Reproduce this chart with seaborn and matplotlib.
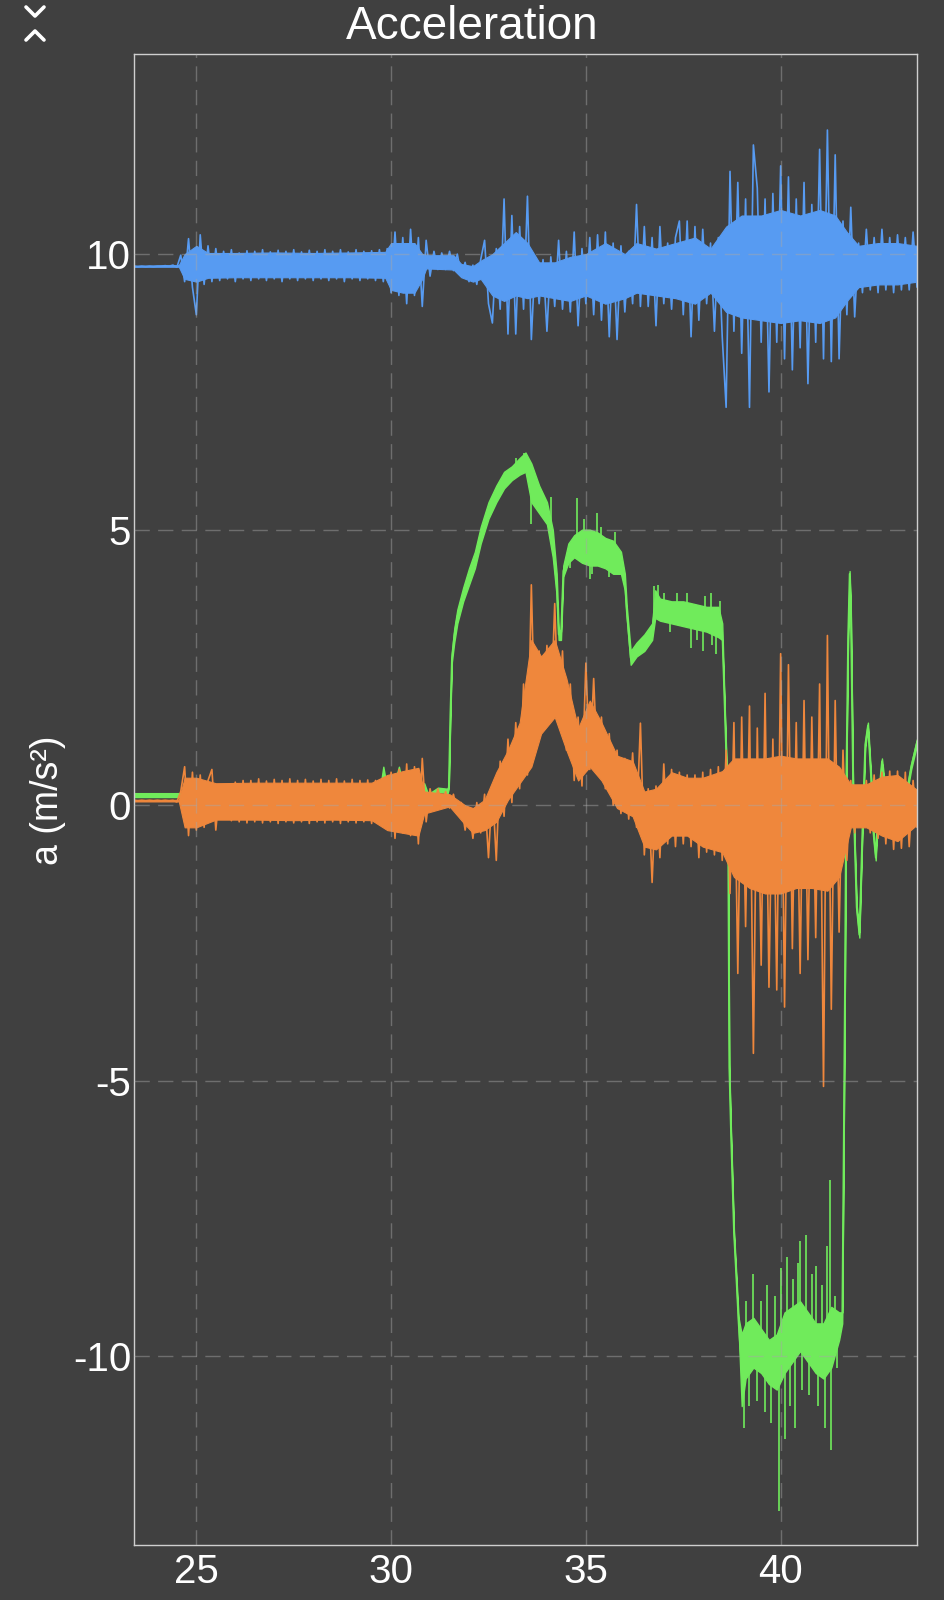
import numpy as np
import pandas as pd
import matplotlib
matplotlib.use("Agg")
import matplotlib.pyplot as plt
from matplotlib.lines import Line2D
import seaborn as sns

# readings every 0.1 s from 23.4 s, in m/s^2 (peaks of the noise)
SAMPLE_START = 23.4
SAMPLE_STEP = 0.1

blue_a = [9.78, 9.77, 9.78, 9.77, 9.78, 9.77, 9.78, 9.78, 9.79, 9.78,
          9.80, 9.76, 9.98, 9.50, 10.28, 9.40, 8.90, 10.35, 9.45, 10.15,
          9.50, 10.10, 9.52, 10.05, 9.55, 10.08, 9.50, 10.02, 9.55, 10.06,
          9.52, 10.05, 9.55, 10.08, 9.52, 10.04, 9.55, 10.07, 9.50, 10.05,
          9.55, 10.08, 9.52, 10.04, 9.55, 10.07, 9.52, 10.05, 9.55, 10.08,
          9.52, 10.05, 9.55, 10.08, 9.50, 10.04, 9.55, 10.08, 9.52, 10.05,
          9.55, 10.06, 9.52, 10.08, 9.50, 10.10, 9.30, 10.40, 9.25, 10.30,
          9.10, 10.45, 9.25, 10.30, 9.05, 10.25, 9.60, 10.05, 9.72, 10.02,
          9.72, 10.05, 9.70, 10.00, 9.60, 9.85, 9.50, 9.80, 9.45, 9.90,
          10.25, 9.10, 8.75, 10.10, 9.00, 11.00, 8.55, 10.70, 8.55, 10.50,
          9.00, 11.05, 8.45, 9.95, 9.10, 9.90, 8.60, 9.95, 9.05, 10.25,
          9.00, 10.05, 8.95, 10.40, 8.70, 10.10, 9.10, 10.30, 8.90, 10.35,
          8.80, 10.40, 8.50, 10.20, 8.45, 10.15, 8.95, 10.05, 9.10, 10.90,
          9.05, 10.50, 9.05, 10.30, 8.70, 10.50, 9.10, 10.20, 9.00, 10.30,
          10.60, 8.90, 10.60, 8.50, 10.50, 8.80, 10.45, 9.10, 10.20, 8.60,
          10.30, 8.50, 7.22, 11.50, 8.60, 11.30, 8.20, 11.00, 7.22, 11.98,
          11.20, 8.40, 11.00, 7.50, 11.10, 8.40, 11.60, 8.10, 11.40, 7.90,
          11.00, 8.30, 11.30, 7.65, 10.90, 8.40, 11.90, 8.10, 12.25, 8.05,
          11.80, 8.10, 10.60, 8.90, 10.85, 8.86, 10.20, 9.30, 10.45, 9.35,
          10.30, 9.30, 10.45, 9.35, 10.30, 9.30, 10.35, 9.35, 10.30, 9.35,
          10.40, 9.40]

orange_a = [0.09, 0.08, 0.09, 0.08, 0.09, 0.08, 0.09, 0.08, 0.09, 0.08,
            0.09, 0.06, 0.25, 0.70, -0.55, 0.60, -0.45, 0.55, -0.40, 0.45,
            0.65, -0.45, 0.30, -0.25, 0.35, -0.28, 0.42, -0.30, 0.45, -0.32,
            0.45, -0.30, 0.48, -0.32, 0.44, -0.30, 0.47, -0.33, 0.45, -0.30,
            0.48, -0.32, 0.45, -0.30, 0.47, -0.33, 0.44, -0.30, 0.47, -0.32,
            0.45, -0.30, 0.48, -0.33, 0.44, -0.30, 0.47, -0.32, 0.45, -0.30,
            0.46, -0.33, 0.45, -0.30, 0.48, -0.35, 0.60, -0.60, 0.65, -0.50,
            0.75, -0.55, 0.70, -0.70, 0.85, -0.30, 0.30, -0.05, 0.30, 0.00,
            0.25, -0.05, 0.20, -0.15, 0.05, -0.45, -0.05, -0.60, 0.05, -0.50,
            0.20, -0.95, 0.35, -1.00, 0.80, -0.20, 1.20, 0.05, 1.50, 0.30,
            2.20, 0.55, 4.00, 1.10, 2.80, 1.40, 2.90, 1.60, 3.66, 1.60,
            2.80, 1.00, 2.20, 0.45, 1.60, 0.35, 2.58, 0.65, 2.30, 0.60,
            1.60, 0.30, 1.30, 0.00, 1.00, -0.15, 0.85, -0.25, 0.95, -0.40,
            1.49, -0.90, 0.30, -1.40, 0.35, -0.95, 0.75, -0.70, 0.65, -0.75,
            0.60, -0.70, 0.55, -0.75, 0.55, -0.95, 0.60, -0.85, 0.65, -0.90,
            0.70, -1.00, 1.00, -1.60, 1.50, -3.05, 1.60, -2.20, 1.80, -4.50,
            1.40, -2.90, 2.03, -3.30, 1.20, -3.35, 2.75, -3.66, 2.55, -2.60,
            1.50, -3.05, 1.90, -2.80, 1.60, -2.40, 2.20, -5.10, 3.08, -3.70,
            1.90, -2.30, 1.00, -1.00, 0.45, -0.50, 0.35, -0.40, 0.45, -0.50,
            0.55, -0.60, 0.60, -0.70, 0.62, -0.80, 0.62, -0.78, 0.60, -0.75,
            0.45, -0.40]

# dense core of the blue and orange noise: time knots (s), lower and upper edge
blue_t = [23.40, 24.55, 24.70, 25.00, 25.30, 26.00, 27.00, 28.00, 29.00, 29.85, 30.00, 30.30,
          30.60, 30.80, 30.90, 31.60, 31.80, 32.10, 32.30, 32.60, 32.90, 33.20, 33.50, 33.80,
          34.20, 34.60, 35.00, 35.50, 36.00, 36.30, 36.80, 37.30, 37.80, 38.20, 38.60, 39.00,
          39.50, 40.00, 40.50, 41.00, 41.40, 41.70, 42.00, 42.50, 43.00, 43.50]
blue_lo = [9.77, 9.77, 9.55, 9.50, 9.57, 9.58, 9.58, 9.58, 9.58, 9.57, 9.35, 9.30,
           9.30, 9.55, 9.74, 9.72, 9.58, 9.50, 9.55, 9.25, 9.15, 9.25, 9.20, 9.25,
           9.20, 9.15, 9.25, 9.10, 9.20, 9.30, 9.25, 9.20, 9.10, 9.30, 8.95, 8.85,
           8.80, 8.75, 8.80, 8.75, 8.85, 9.15, 9.40, 9.45, 9.45, 9.50]
blue_hi = [9.79, 9.80, 10.00, 10.15, 10.02, 10.02, 10.03, 10.02, 10.03, 10.04, 10.20, 10.20,
           10.20, 10.00, 9.98, 9.98, 9.82, 9.78, 9.88, 10.00, 10.20, 10.40, 10.20, 9.85,
           9.85, 9.95, 10.00, 10.20, 10.00, 10.20, 10.10, 10.20, 10.30, 10.10, 10.50, 10.70,
           10.70, 10.80, 10.70, 10.80, 10.70, 10.40, 10.15, 10.20, 10.20, 10.15]

orange_t = [23.40, 24.55, 24.70, 25.00, 25.50, 26.50, 27.50, 28.50, 29.50, 29.90, 30.30, 30.70,
            30.85, 31.50, 31.90, 32.10, 32.40, 32.70, 33.00, 33.30, 33.60, 33.85, 34.20, 34.50,
            34.80, 35.10, 35.40, 35.80, 36.20, 36.50, 36.80, 37.20, 37.60, 38.00, 38.50, 38.80,
            39.20, 39.60, 40.00, 40.40, 40.80, 41.20, 41.50, 41.80, 42.20, 42.60, 43.00, 43.50]
orange_lo = [0.07, 0.07, -0.40, -0.40, -0.26, -0.26, -0.27, -0.26, -0.27, -0.45, -0.50, -0.55,
             -0.15, -0.02, -0.35, -0.50, -0.45, -0.30, 0.10, 0.40, 0.70, 1.30, 1.60, 1.00,
             0.45, 0.70, 0.45, -0.05, -0.20, -0.75, -0.80, -0.55, -0.55, -0.75, -0.85, -1.30,
             -1.50, -1.60, -1.60, -1.50, -1.50, -1.55, -1.30, -0.40, -0.40, -0.55, -0.65, -0.35]
orange_hi = [0.10, 0.10, 0.50, 0.50, 0.40, 0.41, 0.41, 0.41, 0.41, 0.55, 0.62, 0.68,
             0.25, 0.20, 0.00, -0.05, 0.10, 0.60, 1.00, 1.50, 3.00, 2.70, 3.00, 2.30,
             1.40, 1.90, 1.50, 0.90, 0.80, 0.25, 0.30, 0.60, 0.50, 0.50, 0.62, 0.85,
             0.85, 0.85, 0.90, 0.85, 0.85, 0.85, 0.70, 0.38, 0.38, 0.52, 0.55, 0.28]

# green trace: time knots (s) with lower and upper edge, plus single spikes
green_t = [23.40, 24.60, 29.70, 29.80, 29.90, 30.00, 30.20, 30.35, 30.60, 30.85, 30.95, 31.20,
           31.45, 31.48, 31.52, 31.56, 31.62, 31.70, 31.85, 32.00, 32.15, 32.30, 32.50, 32.70,
           32.90, 33.10, 33.30, 33.45, 33.60, 33.80, 34.00, 34.15, 34.25, 34.30, 34.36, 34.42,
           34.55, 34.70, 34.90, 35.10, 35.30, 35.50, 35.70, 35.90, 36.00, 36.05, 36.15, 36.30,
           36.50, 36.70, 36.78, 36.90, 37.20, 37.50, 37.80, 38.10, 38.40, 38.50, 38.55, 38.60,
           38.65, 38.68, 38.72, 38.80, 38.86, 38.92, 39.00, 39.10, 39.30, 39.50, 39.70, 39.90,
           40.10, 40.30, 40.50, 40.70, 40.90, 41.10, 41.30, 41.50, 41.58, 41.62, 41.65, 41.68,
           41.73, 41.77, 41.80, 41.86, 41.95, 42.02, 42.10, 42.17, 42.24, 42.32, 42.38, 42.44,
           42.51, 42.60, 42.68, 42.80, 43.00, 43.25, 43.35, 43.50]
green_lo = [0.15, 0.15, 0.15, 0.10, -0.40, -0.30, 0.20, -0.10, 0.05, 0.25, 0.10, 0.25,
            0.22, 0.30, 1.60, 2.60, 2.95, 3.30, 3.70, 4.00, 4.30, 4.75, 5.20, 5.50,
            5.75, 5.90, 6.00, 6.05, 5.50, 5.30, 5.10, 4.50, 3.80, 3.00, 3.00, 4.15,
            4.40, 4.50, 4.40, 4.35, 4.35, 4.30, 4.20, 4.20, 3.90, 3.40, 2.55, 2.70,
            2.80, 3.00, 3.40, 3.35, 3.30, 3.25, 3.20, 3.15, 3.05, 3.00, 2.00, 0.90,
            -0.50, -4.80, -5.90, -7.80, -8.60, -9.50, -10.90, -10.40, -10.20, -10.30, -10.50, -10.60,
            -10.30, -10.10, -9.90, -10.10, -10.30, -10.40, -10.20, -9.70, -9.40, -6.00, -3.20, 0.20,
            3.00, 4.15, 3.50, 0.20, -1.90, -2.40, -0.45, 1.05, 1.40, 0.45, -0.55, -1.00,
            0.05, 0.75, 0.25, 0.10, 0.15, 0.25, 0.65, 1.10]
green_hi = [0.22, 0.22, 0.22, 0.70, 0.30, 0.20, 0.70, 0.20, 0.20, 0.40, 0.20, 0.32,
            0.30, 0.35, 1.70, 2.75, 3.20, 3.55, 3.95, 4.30, 4.60, 5.05, 5.50, 5.80,
            6.05, 6.15, 6.30, 6.40, 6.20, 5.80, 5.50, 5.00, 4.20, 3.20, 3.15, 4.35,
            4.75, 4.90, 5.00, 5.00, 4.95, 4.85, 4.80, 4.60, 4.20, 3.60, 2.80, 2.95,
            3.10, 3.30, 3.90, 3.75, 3.70, 3.70, 3.65, 3.60, 3.60, 3.30, 2.10, 1.00,
            -0.40, -4.70, -5.80, -7.70, -8.50, -9.30, -9.60, -9.40, -9.30, -9.50, -9.70, -9.60,
            -9.20, -9.10, -9.00, -9.20, -9.40, -9.40, -9.10, -9.20, -9.20, -5.90, -3.10, 0.30,
            3.10, 4.25, 3.60, 0.30, -1.80, -2.30, -0.35, 1.15, 1.50, 0.55, -0.45, -0.90,
            0.15, 0.85, 0.35, 0.20, 0.25, 0.35, 0.75, 1.20]
green_spike_t = [33.20, 33.42, 33.60, 34.10, 34.60, 34.77, 34.95, 35.10, 35.15, 35.28, 35.40,
                 35.60, 35.75, 36.75, 36.85, 37.00, 37.15, 37.35, 37.60, 37.70, 37.85, 38.00,
                 38.05, 38.20, 38.25, 38.35, 38.45,
                 39.05, 39.10, 39.20, 39.30, 39.40, 39.50, 39.60, 39.65, 39.75, 39.85, 39.95,
                 40.00, 40.10, 40.17, 40.25, 40.32, 40.37, 40.45, 40.50, 40.55, 40.65, 40.72,
                 40.80, 40.90, 40.95, 41.05, 41.15, 41.20, 41.27, 41.30, 41.40, 41.45]
green_spike_v = [6.30, 6.39, 5.10, 5.60, 4.30, 5.57, 5.20, 4.10, 4.20, 5.30, 5.05,
                 4.15, 4.95, 3.98, 4.00, 3.85, 3.15, 3.85, 3.85, 2.85, 3.00, 2.80,
                 3.80, 3.85, 2.90, 2.75, 3.70,
                 -11.30, -9.00, -10.90, -8.50, -10.80, -9.00, -11.00, -8.70, -11.20, -8.90, -12.80,
                 -8.40, -11.50, -8.20, -10.90, -8.60, -11.30, -8.30, -7.90, -10.60, -7.80, -10.70,
                 -8.50, -8.35, -10.90, -8.70, -11.30, -8.00, -6.80, -11.70, -8.90, -10.20]

BG = "#404040"
BLUE = "#579BF2"
GREEN = "#70EB5B"
ORANGE = "#EF873C"

sns.set_theme(style="dark", rc={"axes.facecolor": BG, "figure.facecolor": BG})
plt.rcParams["font.family"] = ["Liberation Sans", "DejaVu Sans"]
plt.rcParams["axes.unicode_minus"] = False

fig = plt.figure(figsize=(9.45, 16), dpi=100, facecolor=BG)
ax = fig.add_axes([134 / 945, 55 / 1600, 783 / 945, 1491 / 1600])
ax.set_facecolor(BG)


def sample_time(values):
    return np.round(SAMPLE_START + SAMPLE_STEP * np.arange(len(values)), 2)


def draw_noisy(t, lo, hi, values, color, z):
    ax.fill_between(t, lo, hi, color=color, lw=0.8, zorder=z)
    df = pd.DataFrame({"t": sample_time(values), "a": values})
    sns.lineplot(data=df, x="t", y="a", sort=False, estimator=None,
                 color=color, lw=1.2, ax=ax, zorder=z)


def draw_green(t, lo, hi, spike_t, spike_v, color, z):
    t, lo, hi = np.asarray(t), np.asarray(lo), np.asarray(hi)
    ax.fill_between(t, lo, hi, color=color, lw=1.0, zorder=z)
    mid = pd.DataFrame({"t": t, "a": (lo + hi) / 2})
    sns.lineplot(data=mid, x="t", y="a", sort=False, estimator=None,
                 color=color, lw=1.2, ax=ax, zorder=z)
    base = np.interp(spike_t, t, (lo + hi) / 2)
    ax.vlines(spike_t, base, spike_v, color=color, lw=1.2, zorder=z)


draw_noisy(blue_t, blue_lo, blue_hi, blue_a, BLUE, 1.1)
draw_green(green_t, green_lo, green_hi, green_spike_t, green_spike_v, GREEN, 1.2)
draw_noisy(orange_t, orange_lo, orange_hi, orange_a, ORANGE, 1.3)

ax.set_xlim(23.4, 43.5)
ax.set_ylim(-13.42, 13.63)
ax.set_xticks([25, 30, 35, 40])
ax.set_yticks([-10, -5, 0, 5, 10])
ax.set_xlabel("")
ax.set_ylabel("")
ax.tick_params(axis="both", length=0, labelsize=29, colors="white")
ax.tick_params(axis="x", pad=6)
ax.tick_params(axis="y", pad=2)
ax.set_axisbelow(False)
ax.grid(True, color="#a8a8a8", alpha=0.45, lw=1.0, ls=(0, (11, 6)))
for sp in ax.spines.values():
    sp.set_visible(True)
    sp.set_color("#cfcfcf")
    sp.set_linewidth(1.0)

fig.text(0.5, 1 - 39 / 1600, "Acceleration", ha="center", va="baseline",
         fontsize=33, color="white")
fig.text(48 / 945, 0.5, "a (m/s²)", rotation=90, ha="center", va="center",
         fontsize=27, color="white")

# collapse / expand chevrons in the top left corner
W, H = 945, 1600
for pts in ([(26, 7), (35, 16), (44, 7)], [(26, 40), (35, 31), (44, 40)]):
    xs = [p[0] / W for p in pts]
    ys = [1 - p[1] / H for p in pts]
    fig.add_artist(Line2D(xs, ys, transform=fig.transFigure, color="white",
                          lw=2.6, solid_capstyle="round", solid_joinstyle="round"))

fig.savefig("out.png", dpi=100, facecolor=BG)
